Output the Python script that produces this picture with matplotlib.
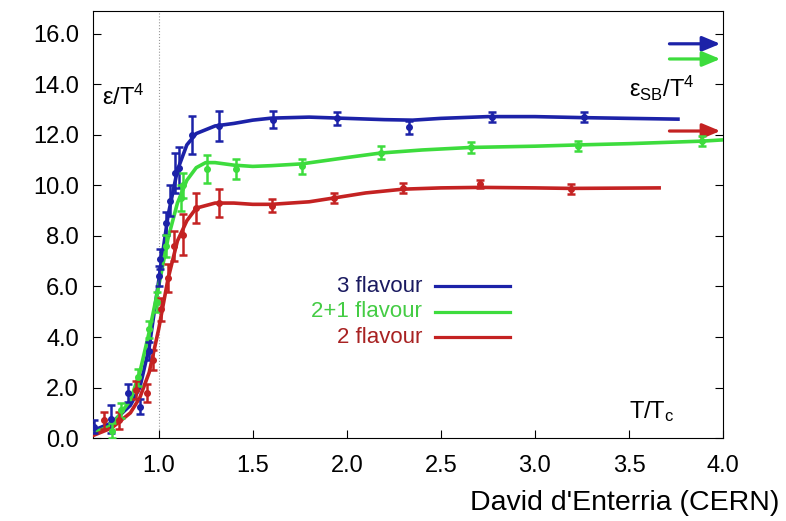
import matplotlib.pyplot as plt

plt.rcParams['font.family'] = ['Liberation Sans', 'DejaVu Sans']
plt.rcParams['mathtext.fontset'] = 'custom'
plt.rcParams['mathtext.rm'] = 'Liberation Sans'
plt.rcParams['mathtext.it'] = 'Liberation Sans'

# data points (T/Tc, eps/T^4, error)
x3 = [0.655, 0.745, 0.835, 0.90, 0.95, 1.0, 1.005, 1.04, 1.06, 1.085, 1.106, 1.18, 1.32, 1.61, 1.95, 2.33, 2.77, 3.26]
y3 = [0.45, 0.75, 1.8, 1.25, 3.45, 6.4, 7.1, 8.5, 9.4, 10.5, 10.7, 12.0, 12.35, 12.6, 12.65, 12.3, 12.72, 12.7]
e3 = [0.25, 0.55, 0.35, 0.3, 0.35, 0.4, 0.4, 0.45, 0.6, 0.8, 0.8, 0.75, 0.6, 0.35, 0.25, 0.25, 0.2, 0.2]

x21 = [0.75, 0.80, 0.89, 0.95, 0.99, 1.04, 1.12, 1.13, 1.255, 1.41, 1.76, 2.18, 2.66, 3.23, 3.89]
y21 = [0.3, 1.1, 2.4, 4.3, 5.4, 7.6, 9.5, 10.0, 10.65, 10.65, 10.75, 11.3, 11.5, 11.55, 11.75]
e21 = [0.3, 0.3, 0.35, 0.35, 0.4, 0.45, 0.5, 0.5, 0.55, 0.4, 0.3, 0.25, 0.2, 0.2, 0.2]

x2 = [0.71, 0.79, 0.88, 0.94, 0.97, 1.015, 1.05, 1.08, 1.13, 1.20, 1.32, 1.60, 1.93, 2.30, 2.71, 3.19]
y2 = [0.7, 0.7, 1.9, 1.8, 3.1, 5.1, 6.35, 7.6, 8.05, 9.1, 9.3, 9.2, 9.5, 9.9, 10.05, 9.85]
e2 = [0.35, 0.35, 0.35, 0.35, 0.4, 0.45, 0.55, 0.6, 0.8, 0.6, 0.55, 0.25, 0.2, 0.2, 0.15, 0.2]

# fitted curves
cx3 = [0.65, 0.75, 0.85, 0.90, 0.95, 1.0, 1.05, 1.10, 1.15, 1.20, 1.30, 1.40, 1.50, 1.60, 1.80, 2.00, 2.20, 2.35, 2.50, 2.75, 3.00, 3.25, 3.50, 3.76]
cy3 = [0.3, 0.6, 1.3, 2.0, 3.6, 6.2, 8.8, 10.6, 11.6, 12.05, 12.35, 12.45, 12.58, 12.66, 12.7, 12.65, 12.6, 12.58, 12.65, 12.72, 12.72, 12.68, 12.65, 12.62]

cx21 = [0.65, 0.75, 0.85, 0.90, 0.95, 1.0, 1.05, 1.10, 1.15, 1.20, 1.25, 1.30, 1.40, 1.50, 1.60, 1.76, 2.00, 2.18, 2.40, 2.66, 3.00, 3.23, 3.50, 3.89, 4.00]
cy21 = [0.2, 0.5, 1.5, 2.6, 4.2, 6.0, 7.9, 9.3, 10.2, 10.7, 10.9, 10.9, 10.8, 10.75, 10.78, 10.85, 11.1, 11.28, 11.4, 11.5, 11.55, 11.6, 11.65, 11.75, 11.8]

cx2 = [0.65, 0.75, 0.85, 0.90, 0.95, 1.0, 1.05, 1.10, 1.15, 1.20, 1.30, 1.40, 1.50, 1.60, 1.80, 1.93, 2.10, 2.30, 2.50, 2.71, 3.00, 3.19, 3.66]
cy2 = [0.1, 0.4, 1.0, 1.6, 2.6, 4.3, 6.3, 7.8, 8.6, 9.1, 9.3, 9.3, 9.25, 9.25, 9.35, 9.5, 9.7, 9.85, 9.9, 9.92, 9.9, 9.88, 9.9]

# Stefan-Boltzmann limits (arrows)
sb = [15.6, 15.0, 12.15]

labels = ['3 flavour', '2+1 flavour', '2 flavour']
line_colors = ['#1c22a8', '#3ddc3d', '#c42222']
text_colors = ['#1a1a60', '#44cc44', '#a82222']

fig = plt.figure(figsize=(7.86, 5.21), dpi=100)
ax = fig.add_axes([0.118, 0.159, 0.802, 0.820])

sets = [(x3, y3, e3, cx3, cy3), (x21, y21, e21, cx21, cy21), (x2, y2, e2, cx2, cy2)]
for (px, py, pe, lx, ly), c in zip(sets, line_colors):
    ax.plot(lx, ly, color=c, lw=2.6, zorder=3)
    ax.errorbar(px, py, yerr=pe, fmt='o', ms=4, color=c, ecolor=c,
                elinewidth=1.8, capsize=3, capthick=1.8, zorder=4)

for v, c in zip(sb, line_colors):
    ax.annotate('', xy=(4.0, v), xytext=(3.70, v), annotation_clip=False,
                arrowprops=dict(arrowstyle='-|>,head_length=0.6,head_width=0.25',
                                color=c, lw=2.3, mutation_scale=18))

# legend drawn as text + short lines
for i, (lab, lc, tc) in enumerate(zip(labels, line_colors, text_colors)):
    yy = 6.0 - i * 1.0
    ax.text(2.40, yy, lab, color=tc, fontsize=16, ha='right', va='center')
    ax.plot([2.47, 2.87], [yy, yy], color=lc, lw=2.3)

ax.axvline(1.0, color='#999999', lw=0.8, ls=':', zorder=1)

ax.text(0.70, 13.2, r'ε/T$^4$', fontsize=17)
ax.text(3.50, 13.5, r'ε$_{\rm SB}$/T$^4$', fontsize=17)
ax.text(3.50, 0.8, r'T/T$_{\rm c}$', fontsize=17)
fig.text(0.598, 0.022, "David d'Enterria (CERN)", fontsize=20.5)

ax.set_xlim(0.65, 4.0)
ax.set_ylim(0, 16.9)
ax.set_xticks([1.0, 1.5, 2.0, 2.5, 3.0, 3.5, 4.0])
ax.set_xticklabels(['1.0', '1.5', '2.0', '2.5', '3.0', '3.5', '4.0'])
ax.set_yticks([0, 2, 4, 6, 8, 10, 12, 14, 16])
ax.set_yticklabels(['%.1f' % v for v in [0, 2, 4, 6, 8, 10, 12, 14, 16]])
ax.tick_params(direction='in', length=6, labelsize=17, right=True, pad=10)
ax.tick_params(axis='x', pad=12)

plt.savefig('out.png', dpi=100)
